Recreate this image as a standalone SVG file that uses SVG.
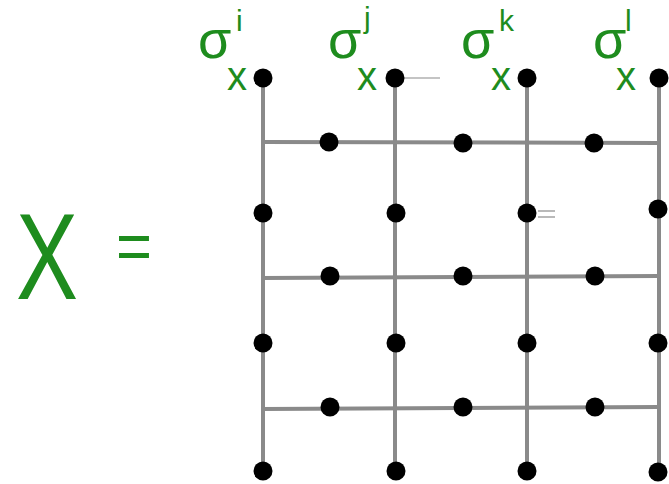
<svg xmlns="http://www.w3.org/2000/svg" width="669" height="484" viewBox="0 0 669 484">
<style>
.ln{stroke:#8a8a8a;stroke-width:4;fill:none}
.thin{stroke:#8a8a8a;stroke-width:1.2;fill:none}
.dot{fill:#000}
.g{fill:#1e8c1e;font-family:"Liberation Sans",Arial,sans-serif}
</style>
<rect width="669" height="484" fill="#fff"/>
<g id="connectors">
<line class="ln" x1="263" y1="78" x2="263" y2="471"/>
<line class="ln" x1="395" y1="78" x2="395" y2="471"/>
<line class="ln" x1="527" y1="78" x2="527" y2="471"/>
<line class="ln" x1="659" y1="78" x2="659" y2="471"/>
<line class="ln" x1="263" y1="142" x2="659" y2="143"/>
<line class="ln" x1="263" y1="278" x2="659" y2="276"/>
<line class="ln" x1="263" y1="409" x2="659" y2="407"/>
<line class="thin" x1="395" y1="78" x2="440" y2="78"/>
<line class="thin" x1="538" y1="211" x2="555" y2="211"/>
<line class="thin" x1="538" y1="217" x2="555" y2="217"/>
</g>
<g id="label-X"><text class="g" x="16" y="299" font-size="122" textLength="62" lengthAdjust="spacingAndGlyphs">X</text></g>
<g id="label-eq"><text class="g" x="116" y="270" font-size="68" textLength="36" lengthAdjust="spacingAndGlyphs">=</text></g>
<g id="label-i"><text class="g" x="198" y="58" font-size="54">σ</text><text class="g" x="236" y="31" font-size="30">i</text><text class="g" x="227" y="90" font-size="40">x</text></g>
<g id="label-j"><text class="g" x="328" y="58" font-size="54">σ</text><text class="g" x="364" y="28" font-size="30">j</text><text class="g" x="357" y="90" font-size="40">x</text></g>
<g id="label-k"><text class="g" x="461" y="58" font-size="54">σ</text><text class="g" x="499" y="31" font-size="30">k</text><text class="g" x="491" y="90" font-size="40">x</text></g>
<g id="label-l"><text class="g" x="593" y="58" font-size="54">σ</text><text class="g" x="625" y="31" font-size="30">l</text><text class="g" x="616" y="90" font-size="40">x</text></g>
<g id="node-c1r1"><circle class="dot" cx="263" cy="78" r="9.5"/></g>
<g id="node-c2r1"><circle class="dot" cx="395" cy="78" r="9.5"/></g>
<g id="node-c3r1"><circle class="dot" cx="527" cy="78" r="9.5"/></g>
<g id="node-c4r1"><circle class="dot" cx="659" cy="78" r="9.5"/></g>
<g id="node-c1r2"><circle class="dot" cx="263" cy="213" r="9.5"/></g>
<g id="node-c2r2"><circle class="dot" cx="396" cy="213" r="9.5"/></g>
<g id="node-c3r2"><circle class="dot" cx="527" cy="213" r="9.5"/></g>
<g id="node-c4r2"><circle class="dot" cx="658" cy="209" r="9.5"/></g>
<g id="node-c1r3"><circle class="dot" cx="263" cy="343" r="9.5"/></g>
<g id="node-c2r3"><circle class="dot" cx="396" cy="343" r="9.5"/></g>
<g id="node-c3r3"><circle class="dot" cx="527" cy="343" r="9.5"/></g>
<g id="node-c4r3"><circle class="dot" cx="658" cy="343" r="9.5"/></g>
<g id="node-c1r4"><circle class="dot" cx="263" cy="471" r="9.5"/></g>
<g id="node-c2r4"><circle class="dot" cx="396" cy="471" r="9.5"/></g>
<g id="node-c3r4"><circle class="dot" cx="527" cy="471" r="9.5"/></g>
<g id="node-c4r4"><circle class="dot" cx="658" cy="472" r="9.5"/></g>
<g id="node-h1a"><circle class="dot" cx="329" cy="142" r="9.5"/></g>
<g id="node-h1b"><circle class="dot" cx="463" cy="143" r="9.5"/></g>
<g id="node-h1c"><circle class="dot" cx="594" cy="143" r="9.5"/></g>
<g id="node-h2a"><circle class="dot" cx="330" cy="276" r="9.5"/></g>
<g id="node-h2b"><circle class="dot" cx="463" cy="276" r="9.5"/></g>
<g id="node-h2c"><circle class="dot" cx="595" cy="276" r="9.5"/></g>
<g id="node-h3a"><circle class="dot" cx="330" cy="407" r="9.5"/></g>
<g id="node-h3b"><circle class="dot" cx="463" cy="407" r="9.5"/></g>
<g id="node-h3c"><circle class="dot" cx="595" cy="407" r="9.5"/></g>
</svg>
